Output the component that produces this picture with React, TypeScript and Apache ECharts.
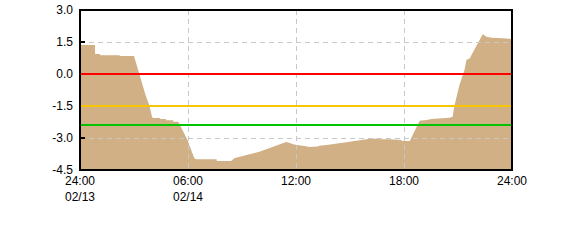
import React, { useEffect, useRef } from "react";
import * as echarts from "echarts";

// Hours since 24:00 02/13 and the water level value at that time
const hours = [
  0, 0.83, 0.84, 1.11, 1.12, 2.2, 2.21, 3.0, 3.64, 3.85, 4.0, 4.05, 4.45, 4.46, 4.77, 4.78,
  5.18, 5.19, 5.46, 5.97, 6.35, 6.46, 7.59, 7.6, 8.39, 8.6, 9.97, 11.45, 11.65, 11.9, 12.47,
  12.75, 13.2, 13.3, 13.7, 14.8, 16.0, 16.65, 16.66, 17.2, 17.21, 17.86, 17.87, 18.32, 18.78,
  18.87, 19.25, 19.53, 20.55, 20.7, 20.8, 21.08, 21.36, 21.47, 21.66, 21.75, 22.2, 22.37,
  22.45, 22.58, 22.87, 23.5, 24,
];
const values = [
  1.36, 1.36, 0.94, 0.94, 0.88, 0.88, 0.84, 0.84, -0.98, -1.47, -2.0, -2.06, -2.06, -2.11,
  -2.11, -2.17, -2.17, -2.24, -2.24, -3.09, -3.95, -4.0, -4.0, -4.08, -4.08, -3.94, -3.64,
  -3.19, -3.23, -3.3, -3.38, -3.42, -3.4, -3.36, -3.33, -3.2, -3.05, -3.02, -3.06, -3.06,
  -3.09, -3.09, -3.14, -3.14, -2.34, -2.19, -2.16, -2.11, -2.05, -2.0, -1.5, -0.52, 0.19,
  0.66, 0.74, 0.89, 1.59, 1.86, 1.83, 1.75, 1.7, 1.67, 1.64,
];

// Threshold lines
const thresholdValues = [0.0, -1.5, -2.4];
const thresholdColors = ["#ff0000", "#f7c600", "#00c400"];

// Axis ticks
const xTicks = [0, 6, 12, 18, 24];
const xTimeLabels = ["24:00", "06:00", "12:00", "18:00", "24:00"];
const xDateLabels = ["02/13", "02/14", "", "", ""];

export default function App() {
  const ref = useRef<HTMLDivElement>(null);

  useEffect(() => {
    if (!ref.current) return;
    const chart = echarts.init(ref.current, null, { renderer: "svg" });
    const font = "Liberation Sans, Arial, sans-serif";
    chart.setOption({
      animation: false,
      backgroundColor: "#ffffff",
      grid: {
        left: 80,
        right: 58,
        top: 10,
        bottom: 70,
        show: true,
        borderColor: "#000000",
        borderWidth: 2,
        backgroundColor: "transparent",
        z: 10,
        outerBoundsMode: "none",
      },
      xAxis: {
        type: "value",
        min: 0,
        max: 24,
        interval: 6,
        z: 3,
        axisLine: { show: false },
        axisTick: { show: false },
        splitLine: {
          show: true,
          lineStyle: { color: "#c8c8c8", type: [5, 4], width: 1 },
        },
        axisLabel: {
          showMinLabel: true,
          showMaxLabel: true,
          margin: 3,
          color: "#000000",
          fontFamily: font,
          fontSize: 12,
          lineHeight: 16,
          formatter: (v: number) => {
            const i = xTicks.indexOf(v);
            if (i < 0) return "";
            return xDateLabels[i] ? xTimeLabels[i] + "\n" + xDateLabels[i] : xTimeLabels[i];
          },
        },
      },
      yAxis: {
        type: "value",
        min: -4.5,
        max: 3.0,
        interval: 1.5,
        z: 3,
        axisLine: { show: false },
        axisTick: {
          show: true,
          inside: true,
          length: 5,
          lineStyle: { color: "#000000", width: 2 },
        },
        splitLine: {
          show: true,
          lineStyle: { color: "#c8c8c8", type: [5, 4], width: 1 },
        },
        axisLabel: {
          margin: 7,
          color: "#000000",
          fontFamily: font,
          fontSize: 12,
          formatter: (v: number) => v.toFixed(1),
        },
      },
      series: [
        {
          type: "line",
          z: 2,
          data: hours.map((h, i) => [h, values[i]]),
          showSymbol: false,
          symbol: "none",
          lineStyle: { width: 0 },
          areaStyle: { color: "#d0b084", opacity: 1, origin: "start" },
          silent: true,
        },
        {
          type: "line",
          z: 5,
          data: [],
          markLine: {
            silent: true,
            symbol: "none",
            label: { show: false },
            data: thresholdValues.map((v, i) => ({
              yAxis: v,
              lineStyle: { color: thresholdColors[i], width: 2, type: "solid" },
            })),
          },
        },
      ],
    });
    return () => chart.dispose();
  }, []);

  return (
    <div
      ref={ref}
      style={{ position: "fixed", left: 0, top: 0, width: 570, height: 240, background: "#fff" }}
    />
  );
}
